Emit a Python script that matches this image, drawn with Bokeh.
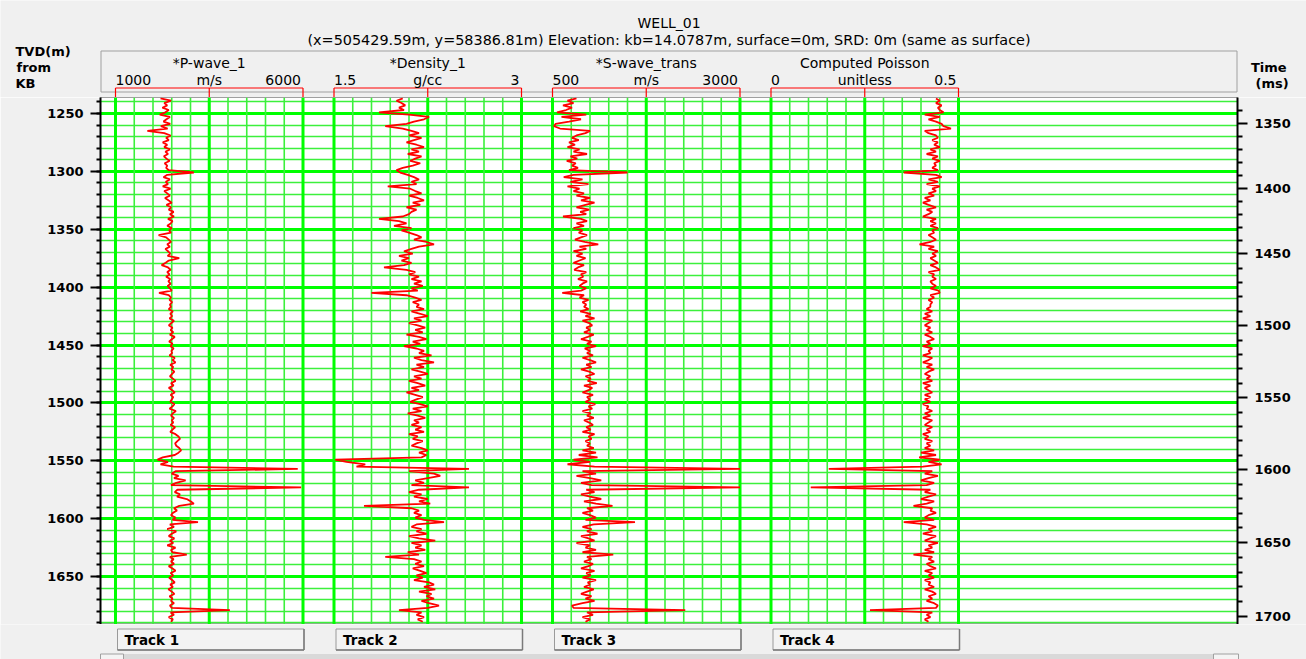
import numpy as np
from bokeh.plotting import figure
from bokeh.layouts import column
from bokeh.models import (Range1d, LinearAxis, SingleIntervalTicker, FixedTicker, Label)
from bokeh.embed import file_html
from bokeh.resources import INLINE

# ---------------------------------------------------------------- log data
TOP_DEPTH = 1237.0      # first sample, m TVD below KB
SAMPLE_STEP = 2.0       # m between samples

P_WAVE = [  # m/s
    2200, 2480, 2300, 2380, 2250, 2420, 2330, 2180, 2450, 2360,
    2280, 2460, 2210, 2390, 1850, 2300, 2470, 2350, 2420, 2260,
    2380, 2300, 2450, 2330, 2400, 2290, 2360, 2440, 2310, 2380,
    2350, 2420, 3090, 2380, 2280, 2450, 2340, 2400, 2260, 2470,
    2300, 2380, 2450, 2320, 2410, 2500, 2360, 2480, 2420, 2550,
    2450, 2560, 2400, 2520, 2470, 2380, 2500, 2430, 2480, 2150,
    2350, 2420, 2480, 2380, 2450, 2330, 2400, 2460, 2390, 2700,
    2420, 2340, 2230, 2400, 2470, 2380, 2440, 2350, 2460, 2410,
    2470, 2390, 2450, 2500, 2160, 2420, 2480, 2440, 2510, 2450,
    2480, 2420, 2530, 2460, 2510, 2440, 2560, 2490, 2420, 2520,
    2470, 2540, 2450, 2580, 2500, 2430, 2520, 2470, 2550, 2490,
    2510, 2440, 2580, 2520, 2600, 2460, 2540, 2490, 2570, 2510,
    2450, 2530, 2600, 2480, 2550, 2420, 2510, 2580, 2470, 2540,
    2500, 2460, 2570, 2520, 2440, 2610, 2530, 2480, 2560, 2500,
    2540, 2470, 2590, 2520, 2460, 2600, 2680, 2720, 2650, 2590,
    2620, 2700, 2750, 2680, 2580, 2260, 2120, 2400, 2200, 2550,
    5860, 2600, 2500, 2680, 2560, 2870, 2620, 2480, 5950, 2650,
    2580, 2720, 2640, 2900, 3000, 3090, 2700, 2560, 2640, 2530,
    2480, 2600, 2520, 3200, 2450, 2560, 2380, 2620, 2500, 2420,
    2570, 2450, 2540, 2380, 2600, 2480, 2520, 2900, 2450, 2550,
    2480, 2560, 2420, 2520, 2600, 2470, 2540, 2430, 2510, 2580,
    2460, 2530, 2410, 2500, 2570, 2440, 2520, 2480, 2560, 2450,
    2500, 4050, 2470, 2560, 2420, 2530, 2480,
]

DENSITY = [  # g/cc
    2.05, 2.00, 2.04, 2.07, 2.02, 2.06, 1.86, 2.10, 2.26, 2.22,
    2.14, 2.08, 1.91, 2.05, 2.12, 2.18, 2.10, 2.20, 2.14, 2.08,
    2.16, 2.22, 2.12, 2.18, 2.09, 2.20, 2.15, 2.11, 2.19, 2.13,
    2.05, 2.00, 2.03, 2.09, 2.14, 2.18, 2.12, 2.16, 1.93, 2.11,
    2.15, 2.20, 2.10, 2.17, 2.22, 2.13, 2.19, 2.08, 2.16, 2.12,
    2.10, 2.05, 1.86, 2.02, 2.08, 1.98, 2.12, 2.04, 2.10, 2.16,
    2.20, 2.14, 2.24, 2.30, 2.18, 2.12, 2.06, 2.13, 2.02, 2.10,
    2.04, 2.12, 2.06, 1.90, 2.08, 2.15, 2.10, 2.18, 2.12, 2.20,
    2.14, 2.21, 2.12, 2.17, 1.80, 2.08, 2.15, 2.20, 2.13, 2.18,
    2.16, 2.22, 2.12, 2.19, 2.25, 2.14, 2.20, 2.10, 2.17, 2.23,
    2.15, 2.21, 2.08, 2.18, 2.24, 2.13, 2.19, 2.06, 2.16, 2.22,
    2.18, 2.28, 2.14, 2.20, 2.30, 2.16, 2.22, 2.12, 2.19, 2.25,
    2.14, 2.20, 2.10, 2.17, 2.23, 2.12, 2.18, 2.08, 2.15, 2.21,
    2.16, 2.11, 2.19, 2.25, 2.13, 2.20, 2.09, 2.17, 2.23, 2.14,
    2.18, 2.12, 2.20, 2.15, 2.22, 2.10, 2.17, 2.13, 2.21, 2.16,
    2.12, 2.20, 2.25, 2.18, 2.24, 2.20, 1.51, 1.60, 1.75, 1.68,
    2.58, 2.10, 2.30, 2.35, 2.25, 2.15, 2.22, 2.12, 2.58, 2.18,
    2.10, 2.20, 2.14, 2.25, 2.18, 2.27, 1.74, 2.12, 2.18, 2.14,
    2.20, 2.15, 2.22, 2.38, 2.16, 2.12, 2.20, 2.16, 2.24, 2.10,
    2.18, 2.31, 2.12, 2.20, 2.15, 2.23, 2.09, 2.18, 1.91, 2.14,
    2.20, 2.15, 2.22, 2.13, 2.19, 2.24, 2.16, 2.21, 2.14, 2.26,
    2.30, 2.22, 2.31, 2.18, 2.28, 2.24, 2.30, 2.20, 2.26, 2.34,
    2.25, 2.02, 2.20, 2.16, 2.22, 2.17, 2.21,
]

S_WAVE = [  # m/s
    820, 700, 780, 640, 760, 680, 560, 950, 620, 880,
    720, 540, 520, 600, 1000, 940, 820, 760, 850, 720,
    800, 700, 860, 780, 960, 740, 830, 690, 810, 760,
    840, 720, 1500, 780, 650, 900, 740, 980, 700, 860,
    780, 920, 820, 1000, 880, 1060, 940, 820, 990, 870,
    950, 640, 880, 960, 820, 920, 780, 900, 850, 960,
    880, 800, 930, 1110, 860, 950, 780, 900, 820, 940,
    860, 780, 920, 840, 790, 950, 880, 910, 840, 960,
    900, 860, 950, 880, 630, 920, 860, 980, 900, 950,
    920, 980, 870, 1010, 940, 1060, 900, 990, 1030, 950,
    1000, 920, 1050, 970, 880, 1020, 960, 1080, 930, 1000,
    960, 1040, 900, 1000, 1080, 950, 1020, 880, 990, 1060,
    940, 1010, 970, 1090, 920, 1030, 980, 900, 1040, 960,
    1000, 940, 1070, 980, 1030, 900, 1010, 960, 1050, 920,
    990, 1040, 950, 1010, 900, 1060, 980, 1020, 940, 1000,
    960, 1050, 900, 1080, 850, 1100, 780, 1000, 700, 1060,
    3000, 900, 1080, 820, 1000, 1150, 880, 1020, 3000, 950,
    1060, 880, 1000, 1150, 920, 1080, 1300, 960, 1040, 900,
    1000, 1080, 940, 1600, 1050, 900, 1020, 960, 1100, 880,
    980, 1060, 820, 1000, 940, 1080, 900, 1310, 960, 1020,
    920, 1040, 980, 880, 1060, 950, 1010, 900, 1080, 970,
    1000, 920, 1050, 960, 880, 1020, 940, 1060, 900, 760,
    780, 2270, 960, 1040, 900, 1000, 940,
]

POISSON = [  # unitless
    0.440, 0.450, 0.440, 0.455, 0.445, 0.450, 0.460, 0.410, 0.450, 0.420,
    0.440, 0.455, 0.460, 0.480, 0.410, 0.420, 0.440, 0.445, 0.430, 0.445,
    0.435, 0.450, 0.425, 0.440, 0.415, 0.445, 0.430, 0.450, 0.435, 0.440,
    0.430, 0.445, 0.354, 0.440, 0.455, 0.420, 0.445, 0.415, 0.450, 0.430,
    0.440, 0.420, 0.435, 0.410, 0.425, 0.405, 0.420, 0.440, 0.415, 0.430,
    0.420, 0.405, 0.440, 0.425, 0.440, 0.425, 0.445, 0.430, 0.435, 0.420,
    0.430, 0.440, 0.425, 0.396, 0.435, 0.420, 0.445, 0.430, 0.440, 0.425,
    0.435, 0.445, 0.425, 0.440, 0.450, 0.420, 0.435, 0.430, 0.440, 0.425,
    0.430, 0.440, 0.425, 0.447, 0.450, 0.425, 0.435, 0.420, 0.430, 0.425,
    0.425, 0.415, 0.430, 0.410, 0.425, 0.405, 0.430, 0.420, 0.410, 0.425,
    0.415, 0.430, 0.410, 0.425, 0.435, 0.415, 0.425, 0.405, 0.430, 0.420,
    0.425, 0.405, 0.430, 0.420, 0.405, 0.430, 0.415, 0.435, 0.420, 0.410,
    0.425, 0.415, 0.430, 0.405, 0.425, 0.410, 0.420, 0.430, 0.410, 0.425,
    0.410, 0.425, 0.405, 0.420, 0.415, 0.430, 0.410, 0.425, 0.405, 0.430,
    0.420, 0.410, 0.430, 0.415, 0.425, 0.405, 0.420, 0.410, 0.430, 0.415,
    0.425, 0.410, 0.435, 0.400, 0.440, 0.395, 0.450, 0.420, 0.455, 0.405,
    0.154, 0.430, 0.410, 0.445, 0.420, 0.400, 0.435, 0.415, 0.106, 0.425,
    0.410, 0.440, 0.420, 0.400, 0.435, 0.415, 0.380, 0.430, 0.425, 0.440,
    0.420, 0.410, 0.435, 0.354, 0.415, 0.440, 0.420, 0.430, 0.405, 0.440,
    0.425, 0.410, 0.445, 0.420, 0.430, 0.410, 0.435, 0.380, 0.430, 0.420,
    0.435, 0.415, 0.425, 0.440, 0.410, 0.430, 0.420, 0.435, 0.410, 0.425,
    0.420, 0.435, 0.410, 0.430, 0.440, 0.420, 0.430, 0.415, 0.435, 0.445,
    0.440, 0.264, 0.430, 0.415, 0.425, 0.410, 0.420,
]

DEPTH = TOP_DEPTH + SAMPLE_STEP * np.arange(len(P_WAVE))

TRACK_NAMES = ["*P-wave_1", "*Density_1", "*S-wave_trans", "Computed Poisson"]
TRACK_UNITS = ["m/s", "g/cc", "m/s", "unitless"]
TRACK_MIN = [1000, 1.5, 500, 0.0]
TRACK_MAX = [6000, 3.0, 3000, 0.5]
TRACK_MIN_TEXT = ["1000", "1.5", "500", "0"]
TRACK_MAX_TEXT = ["6000", "3", "3000", "0.5"]
TRACK_BUTTONS = ["Track 1", "Track 2", "Track 3", "Track 4"]
TRACK_CURVES = [P_WAVE, DENSITY, S_WAVE, POISSON]

# two-way time (ms) against TVD (m) for the right-hand scale
TIME_MS = [1350, 1400, 1450, 1500, 1550, 1600, 1650, 1700]
TIME_DEPTH = [1258.6, 1314.6, 1371.1, 1433.3, 1495.5, 1557.6, 1620.5, 1684.5]

VIEW_TOP, VIEW_BOTTOM = 1236.2, 1691.4

WELL_NAME = "WELL_01"
WELL_INFO = ("(x=505429.59m, y=58386.81m) Elevation: kb=14.0787m, "
             "surface=0m, SRD: 0m (same as surface)")

# ---------------------------------------------------------------- layout
W = 1306
HEAD_H, LOG_H, FOOT_H = 97, 527, 35
FL, FR = 100, 1237                      # log frame left/right (px)
TRACK_X0, TRACK_PITCH, TRACK_W = 115.0, 218.5, 187.5

BG = "#f0f0f0"
GRID_MAJOR = "#00ff00"
GRID_MINOR = "#3cf03c"
RED = "#ff0000"
FONT = "DejaVu Sans"


def track_geometry(k):
    lo, hi = TRACK_MIN[k], TRACK_MAX[k]
    left = TRACK_X0 + k * TRACK_PITCH
    return lo, hi, left, left + TRACK_W


def track_range(k, x0, x1):
    """Range for track k so that its scale spans its column when the frame runs x0..x1 px."""
    lo, hi, left, _ = track_geometry(k)
    span = hi - lo
    return Range1d(lo - (left - x0) / TRACK_W * span, lo + (x1 - left) / TRACK_W * span)


def pixel_panel(height, y_top):
    f = figure(width=W, height=height, output_backend="svg", toolbar_location=None,
               title=None, x_range=Range1d(0, W),
               y_range=Range1d(y_top + height, y_top),
               x_axis_location=None, y_axis_location=None,
               min_border_left=0, min_border_right=0,
               min_border_top=0, min_border_bottom=0,
               background_fill_color=BG, border_fill_color=BG,
               outline_line_color=None, frame_align=False)
    f.xgrid.visible = False
    f.ygrid.visible = False
    return f


def add_label(f, text, x, y, align="left", bold=False, size="14px"):
    f.add_layout(Label(x=x, y=y, text=text, text_align=align, text_baseline="middle",
                       text_font=FONT, text_font_size=size,
                       text_font_style="bold" if bold else "normal",
                       text_color="black"))


# ---------------------------------------------------------------- header
hdr = pixel_panel(HEAD_H, 0)
hdr.quad(left=100.5, right=1236.5, top=50.5, bottom=91.5,
         fill_alpha=0, line_color="#a0a0a0", line_width=1)
add_label(hdr, WELL_NAME, 668.5, 22.5, align="center")
add_label(hdr, WELL_INFO, 668.5, 39.5, align="center", size="14.4px")
add_label(hdr, "TVD(m)", 15, 50.5, bold=True, size="13px")
add_label(hdr, "from", 16, 66.5, bold=True, size="13px")
add_label(hdr, "KB", 15, 82.5, bold=True, size="13px")
add_label(hdr, "Time", 1250.5, 66.7, bold=True, size="13px")
add_label(hdr, "(ms)", 1255, 83.3, bold=True, size="13px")

for k in range(4):
    lo, hi, left, right = track_geometry(k)
    name = f"track{k + 1}"
    hdr.extra_x_ranges[name] = track_range(k, 0, W)
    mid = (lo + hi) / 2
    # scale bracket: bar with end and centre ticks
    hdr.segment(x0=[lo, lo, mid, hi], x1=[hi, lo, mid, hi],
                y0=[87.5, 87.5, 87.5, 87.5], y1=[87.5, 97, 97, 97],
                x_range_name=name, line_color=RED, line_width=1.2)
    cx = (left + right) / 2
    add_label(hdr, TRACK_NAMES[k], cx, 62, align="center")
    add_label(hdr, TRACK_UNITS[k], cx, 79, align="center")
    add_label(hdr, TRACK_MIN_TEXT[k], left, 79, align="left")
    add_label(hdr, TRACK_MAX_TEXT[k], right - 2, 79, align="right")

# ---------------------------------------------------------------- log panel
p = figure(width=W, height=LOG_H, output_backend="svg", toolbar_location=None,
           title=None, x_range=Range1d(0, 1),
           y_range=Range1d(VIEW_BOTTOM, VIEW_TOP),
           x_axis_location=None, y_axis_location="left",
           min_border_left=FL, min_border_right=W - FR,
           min_border_top=0, min_border_bottom=0,
           background_fill_color="white", border_fill_color=BG,
           outline_line_color="#a0a0a0", outline_line_width=1,
           frame_align=False)
p.xgrid.visible = False

depth_ticker = SingleIntervalTicker(interval=50, num_minor_ticks=5)
ax = p.yaxis[0]
ax.ticker = depth_ticker
ax.axis_line_color = "black"
ax.axis_line_width = 2
ax.major_tick_out = 10
ax.major_tick_in = 0
ax.major_tick_line_width = 2
ax.minor_tick_out = 4
ax.minor_tick_in = 0
ax.minor_tick_line_width = 2
ax.major_label_standoff = 7
ax.major_label_text_font = FONT
ax.major_label_text_font_style = "bold"
ax.major_label_text_font_size = "13px"
ax.major_label_text_color = "black"

# horizontal grid: every 50 m heavy, every 10 m light
g = p.ygrid[0]
g.ticker = depth_ticker
g.grid_line_color = GRID_MAJOR
g.grid_line_width = 3
g.minor_grid_line_color = GRID_MINOR
g.minor_grid_line_width = 1.6

# time axis on the right, placed through the time-depth pairs
slope0 = (TIME_DEPTH[1] - TIME_DEPTH[0]) / (TIME_MS[1] - TIME_MS[0])
minor_depths = []
for t in range(TIME_MS[0] - 10, TIME_MS[-1] + 1, 10):
    if t in TIME_MS:
        continue
    if t < TIME_MS[0]:
        d = TIME_DEPTH[0] + (t - TIME_MS[0]) * slope0
    else:
        d = float(np.interp(t, TIME_MS, TIME_DEPTH))
    if VIEW_TOP <= d <= VIEW_BOTTOM:
        minor_depths.append(d)

tax = LinearAxis(ticker=FixedTicker(ticks=TIME_DEPTH, minor_ticks=minor_depths),
                 major_label_overrides={d: str(t) for d, t in zip(TIME_DEPTH, TIME_MS)},
                 axis_line_color="black", axis_line_width=2,
                 major_tick_out=10, major_tick_in=0, major_tick_line_width=2,
                 minor_tick_out=5, minor_tick_in=0, minor_tick_line_width=2,
                 major_label_standoff=7, major_label_text_font=FONT,
                 major_label_text_font_style="bold",
                 major_label_text_font_size="13px",
                 major_label_text_color="black")
p.add_layout(tax, "right")

for k in range(4):
    lo, hi, left, right = track_geometry(k)
    name = f"track{k + 1}"
    p.extra_x_ranges[name] = track_range(k, FL, FR)
    span = hi - lo
    divs = [lo + j * span / 10 for j in range(11)]
    major = [v for j, v in enumerate(divs) if j % 5 == 0]
    minor = [v for j, v in enumerate(divs) if j % 5 != 0]
    p.segment(x0=minor, x1=minor, y0=VIEW_TOP, y1=VIEW_BOTTOM, x_range_name=name,
              line_color=GRID_MINOR, line_width=1.6)
    p.segment(x0=major, x1=major, y0=VIEW_TOP, y1=VIEW_BOTTOM, x_range_name=name,
              line_color=GRID_MAJOR, line_width=3)
    p.line(x=TRACK_CURVES[k], y=DEPTH, x_range_name=name,
           line_color=RED, line_width=1.8)

# ---------------------------------------------------------------- footer
ftr = pixel_panel(FOOT_H, HEAD_H + LOG_H)
for k in range(4):
    lo, hi, left, right = track_geometry(k)
    ftr.quad(left=left + 2, right=right + 1, top=628.5, bottom=649.5,
             fill_color="#f3f3f3", line_color="#9a9a9a", line_width=1)
    # darker lower/right edge of the button
    ftr.segment(x0=[left + 2, right + 1], x1=[right + 1, right + 1],
                y0=[649.5, 628.5], y1=[649.5, 649.5],
                line_color="#7a7a7a", line_width=1.5)
    add_label(ftr, TRACK_BUTTONS[k], left + 9, 639.5, bold=True, size="13.5px")

# scroll bar
ftr.quad(left=100, right=1238, top=653.5, bottom=659,
         fill_color="#d9d9d9", line_alpha=0)
ftr.quad(left=[100, 1213], right=[123, 1238], top=653.5, bottom=659,
         fill_color="#f4f4f4", line_color="#a0a0a0", line_width=1)

layout = column(hdr, p, ftr, spacing=0)
open("out.html", "w").write(file_html(layout, INLINE))
